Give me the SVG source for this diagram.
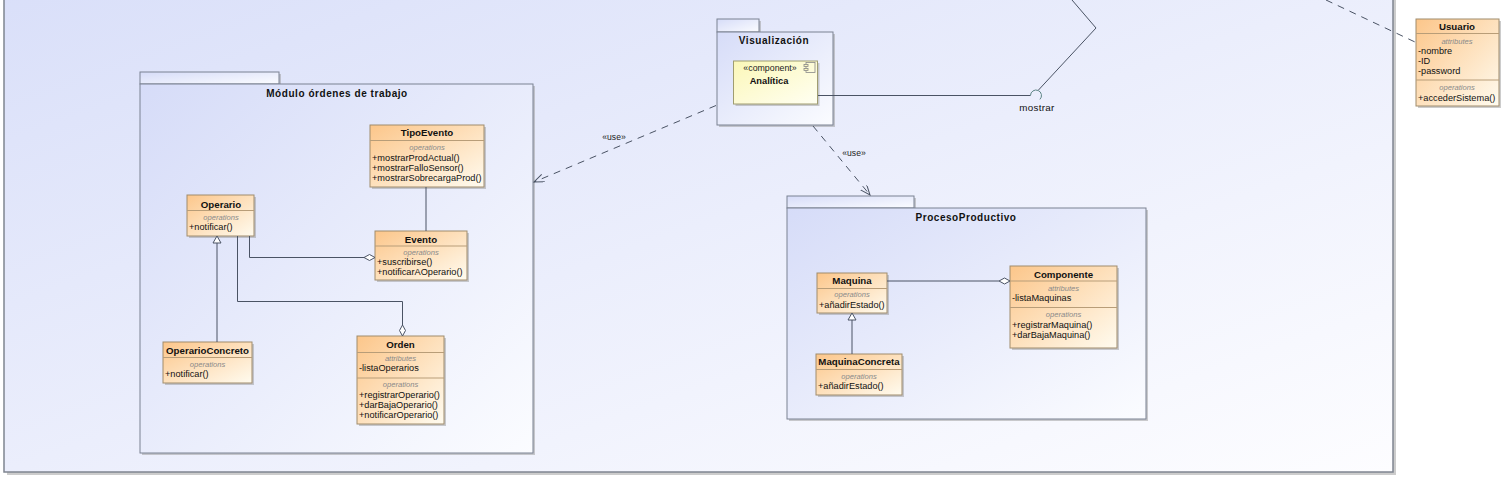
<svg xmlns="http://www.w3.org/2000/svg" width="1509" height="502" viewBox="0 0 1509 502">
<defs>
<linearGradient id="bg" x1="0" y1="0" x2="1" y2="1"><stop offset="0" stop-color="#d9dff9"/><stop offset="1" stop-color="#fdfdff"/></linearGradient>
<linearGradient id="pg" x1="0" y1="0" x2="1" y2="1"><stop offset="0" stop-color="#d6dcf8"/><stop offset="1" stop-color="#fbfcff"/></linearGradient>
<linearGradient id="cg" x1="0" y1="0" x2="1" y2="1"><stop offset="0" stop-color="#fcc68a"/><stop offset="1" stop-color="#fffbef"/></linearGradient>
<linearGradient id="kg" x1="0" y1="0" x2="1" y2="1"><stop offset="0" stop-color="#fbf7b8"/><stop offset="1" stop-color="#fffff2"/></linearGradient>
<marker id="open" markerWidth="12" markerHeight="10" refX="10" refY="4" orient="auto" markerUnits="userSpaceOnUse"><path d="M0,0 L10,4 L0,8" fill="none" stroke="#4a5364" stroke-width="1"/></marker>
<style>
.sh{fill:#9a9a9a;opacity:.5}
.pkg{fill:url(#pg);stroke:#7b8292;stroke-width:1}
.cls{fill:url(#cg);stroke:#a08c6c;stroke-width:1}
.sep{stroke:#b89d78;stroke-width:1}
.pt{font-family:"Liberation Sans",Arial,sans-serif;font-weight:bold;font-size:10px;letter-spacing:.55px;text-anchor:middle;fill:#111}
.nm{font-family:"Liberation Sans",Arial,sans-serif;font-weight:bold;font-size:9.7px;text-anchor:middle;fill:#111}
.sc{font-family:"Liberation Sans",Arial,sans-serif;font-style:italic;font-size:7.6px;text-anchor:middle;fill:#8a8a8a}
.mb{font-family:"Liberation Sans",Arial,sans-serif;font-size:9.2px;fill:#111}
.lb{font-family:"Liberation Sans",Arial,sans-serif;font-size:8.6px;text-anchor:middle;fill:#222}
.cn{fill:none;stroke:#4a5364;stroke-width:1}
.ds{stroke-dasharray:7 6}
.hd{fill:#fff;stroke:#4a5364;stroke-width:1}
</style>
</defs>
<rect width="1509" height="502" fill="#fff"/>

<g id="sistema">
<rect class="sh" x="7" y="-17" width="1389" height="492"/>
<rect x="4" y="-20" width="1389" height="492" fill="url(#bg)" stroke="#7f8590" stroke-width="1.5"/>
</g>

<g id="pkg-modulo">
<rect class="sh" x="142" y="74" width="139" height="12"/>
<rect class="sh" x="142" y="86" width="393" height="369"/>
<rect class="pkg" x="140" y="72" width="139" height="12"/>
<rect class="pkg" x="140" y="84" width="393" height="369"/>
<text class="pt" x="337" y="97">Módulo órdenes de trabajo</text>
</g>

<g id="pkg-visualizacion">
<rect class="sh" x="719" y="21" width="42" height="13"/>
<rect class="sh" x="719" y="34" width="116" height="93"/>
<rect class="pkg" x="717" y="19" width="42" height="13"/>
<rect class="pkg" x="717" y="32" width="116" height="93"/>
<text class="pt" x="774" y="44">Visualización</text>
</g>

<g id="pkg-proceso">
<rect class="sh" x="789" y="198" width="127" height="12"/>
<rect class="sh" x="789" y="210" width="359" height="211"/>
<rect class="pkg" x="787" y="196" width="127" height="12"/>
<rect class="pkg" x="787" y="208" width="359" height="211"/>
<text class="pt" x="966" y="221">ProcesoProductivo</text>
</g>

<g id="analitica">
<rect class="sh" x="735.5" y="63" width="84" height="43"/>
<rect x="733.5" y="61" width="84" height="43" fill="url(#kg)" stroke="#a09d70" stroke-width="1"/>
<text x="770" y="71" font-family="'Liberation Sans',Arial,sans-serif" font-size="8.8px" text-anchor="middle" fill="#222">«component»</text>
<text x="769" y="84" font-family="'Liberation Sans',Arial,sans-serif" font-size="9.3px" font-weight="bold" text-anchor="middle" fill="#111">Analítica</text>
<rect x="806" y="62.5" width="9" height="10" fill="none" stroke="#888" stroke-width="0.8"/>
<rect x="804" y="64.5" width="4" height="2" fill="#fbf7c0" stroke="#888" stroke-width="0.8"/>
<rect x="804" y="68.5" width="4" height="2" fill="#fbf7c0" stroke="#888" stroke-width="0.8"/>
</g>

<g id="mostrar">
<text x="1037" y="111" font-family="'Liberation Sans',Arial,sans-serif" font-size="9.8px" letter-spacing=".3px" text-anchor="middle" fill="#111">mostrar</text>
</g>

<g id="tipoevento">
<rect class="sh" x="372" y="127" width="114" height="62"/>
<rect class="cls" x="370" y="125" width="114" height="62"/>
<line class="sep" x1="370" y1="140.5" x2="484" y2="140.5"/>
<text class="nm" x="427" y="136">TipoEvento</text>
<text class="sc" x="427" y="150">operations</text>
<text class="mb" x="372" y="160.6">+mostrarProdActual()</text>
<text class="mb" x="372" y="170.6">+mostrarFalloSensor()</text>
<text class="mb" x="372" y="180.6">+mostrarSobrecargaProd()</text>
</g>

<g id="operario">
<rect class="sh" x="189" y="197" width="67" height="41"/>
<rect class="cls" x="187" y="195" width="67" height="41"/>
<line class="sep" x1="187" y1="210.5" x2="254" y2="210.5"/>
<text class="nm" x="221" y="207.5">Operario</text>
<text class="sc" x="221" y="219.7">operations</text>
<text class="mb" x="189" y="230">+notificar()</text>
</g>

<g id="evento">
<rect class="sh" x="377" y="233" width="92" height="49"/>
<rect class="cls" x="375" y="231" width="92" height="49"/>
<line class="sep" x1="375" y1="246" x2="467" y2="246"/>
<text class="nm" x="421" y="242.5">Evento</text>
<text class="sc" x="421" y="254.7">operations</text>
<text class="mb" x="377" y="264.6">+suscribirse()</text>
<text class="mb" x="377" y="275.3">+notificarAOperario()</text>
</g>

<g id="operarioconcreto">
<rect class="sh" x="165" y="344" width="89" height="41"/>
<rect class="cls" x="163" y="342" width="89" height="41"/>
<line class="sep" x1="163" y1="357.5" x2="252" y2="357.5"/>
<text class="nm" x="207.5" y="354.2">OperarioConcreto</text>
<text class="sc" x="207.5" y="367">operations</text>
<text class="mb" x="165" y="377.3">+notificar()</text>
</g>

<g id="orden">
<rect class="sh" x="359" y="338" width="87" height="88"/>
<rect class="cls" x="357" y="336" width="87" height="88"/>
<line class="sep" x1="357" y1="352.5" x2="444" y2="352.5"/>
<line class="sep" x1="357" y1="378" x2="444" y2="378"/>
<text class="nm" x="400.5" y="347.8">Orden</text>
<text class="sc" x="400.5" y="361.4">attributes</text>
<text class="mb" x="359" y="371">-listaOperarios</text>
<text class="sc" x="400.5" y="386.7">operations</text>
<text class="mb" x="359" y="398">+registrarOperario()</text>
<text class="mb" x="359" y="408">+darBajaOperario()</text>
<text class="mb" x="359" y="417.6">+notificarOperario()</text>
</g>

<g id="maquina">
<rect class="sh" x="819" y="275" width="70" height="40"/>
<rect class="cls" x="817" y="273" width="70" height="40"/>
<line class="sep" x1="817" y1="288.5" x2="887" y2="288.5"/>
<text class="nm" x="852" y="283.5">Maquina</text>
<text class="sc" x="852" y="297">operations</text>
<text class="mb" x="819" y="307.6">+añadirEstado()</text>
</g>

<g id="maquinaconcreta">
<rect class="sh" x="818" y="356" width="86" height="41"/>
<rect class="cls" x="816" y="354" width="86" height="41"/>
<line class="sep" x1="816" y1="369.5" x2="902" y2="369.5"/>
<text class="nm" x="859" y="365.2">MaquinaConcreta</text>
<text class="sc" x="859" y="379.4">operations</text>
<text class="mb" x="818" y="389.3">+añadirEstado()</text>
</g>

<g id="componente">
<rect class="sh" x="1012" y="268" width="107" height="82"/>
<rect class="cls" x="1010" y="266" width="107" height="82"/>
<line class="sep" x1="1010" y1="281" x2="1117" y2="281"/>
<line class="sep" x1="1010" y1="307.5" x2="1117" y2="307.5"/>
<text class="nm" x="1063.5" y="277.5">Componente</text>
<text class="sc" x="1063.5" y="291.4">attributes</text>
<text class="mb" x="1012" y="301.3">-listaMaquinas</text>
<text class="sc" x="1063.5" y="317">operations</text>
<text class="mb" x="1012" y="328">+registrarMaquina()</text>
<text class="mb" x="1012" y="338">+darBajaMaquina()</text>
</g>

<g id="usuario">
<rect class="sh" x="1418" y="21" width="83" height="87"/>
<rect class="cls" x="1416" y="19" width="83" height="87"/>
<line class="sep" x1="1416" y1="33.5" x2="1499" y2="33.5"/>
<line class="sep" x1="1416" y1="80" x2="1499" y2="80"/>
<text class="nm" x="1457" y="30.2">Usuario</text>
<text class="sc" x="1457" y="44.4">attributes</text>
<text class="mb" x="1418" y="54.3">-nombre</text>
<text class="mb" x="1418" y="64.3">-ID</text>
<text class="mb" x="1418" y="74">-password</text>
<text class="sc" x="1457" y="90">operations</text>
<text class="mb" x="1418" y="101">+accederSistema()</text>
</g>

<g id="connectors">
<line class="cn" x1="426" y1="187" x2="426" y2="231"/>
<path class="cn" d="M249.5,236 V257.5 H364"/>
<path class="hd" d="M375,257.5 L369.5,254.5 L364,257.5 L369.5,260.5 Z"/>
<path class="cn" d="M237.5,236 V301.5 H402.5 V325"/>
<path class="hd" d="M402.5,336 L399.5,330.5 L402.5,325 L405.5,330.5 Z"/>
<line class="cn" x1="217" y1="243" x2="217" y2="342"/>
<path class="hd" d="M217,236 L213,243 L221,243 Z"/>
<line class="cn" x1="887" y1="281" x2="999" y2="281"/>
<path class="hd" d="M1010,281 L1004.5,278 L999,281 L1004.5,284 Z"/>
<line class="cn" x1="852" y1="320" x2="852" y2="354"/>
<path class="hd" d="M852,313 L848,320 L856,320 Z"/>
<line class="cn" x1="818" y1="95.5" x2="1030.5" y2="95.5"/>
<path d="M1030.5,95.5 A5.5,5.5 0 1 1 1039.9,99.4" fill="none" stroke="#5d8585" stroke-width="1"/>
<path class="cn" d="M1038.5,90 L1096,28 L1072,0"/>
<line class="cn ds" x1="716" y1="105.5" x2="534" y2="182" marker-end="url(#open)"/>
<text class="lb" x="614" y="139.5">«use»</text>
<line class="cn ds" x1="813" y1="126" x2="870" y2="195" marker-end="url(#open)"/>
<text class="lb" x="854" y="156">«use»</text>
<line class="cn ds" x1="1326" y1="0" x2="1415" y2="42"/>
</g>
</svg>
